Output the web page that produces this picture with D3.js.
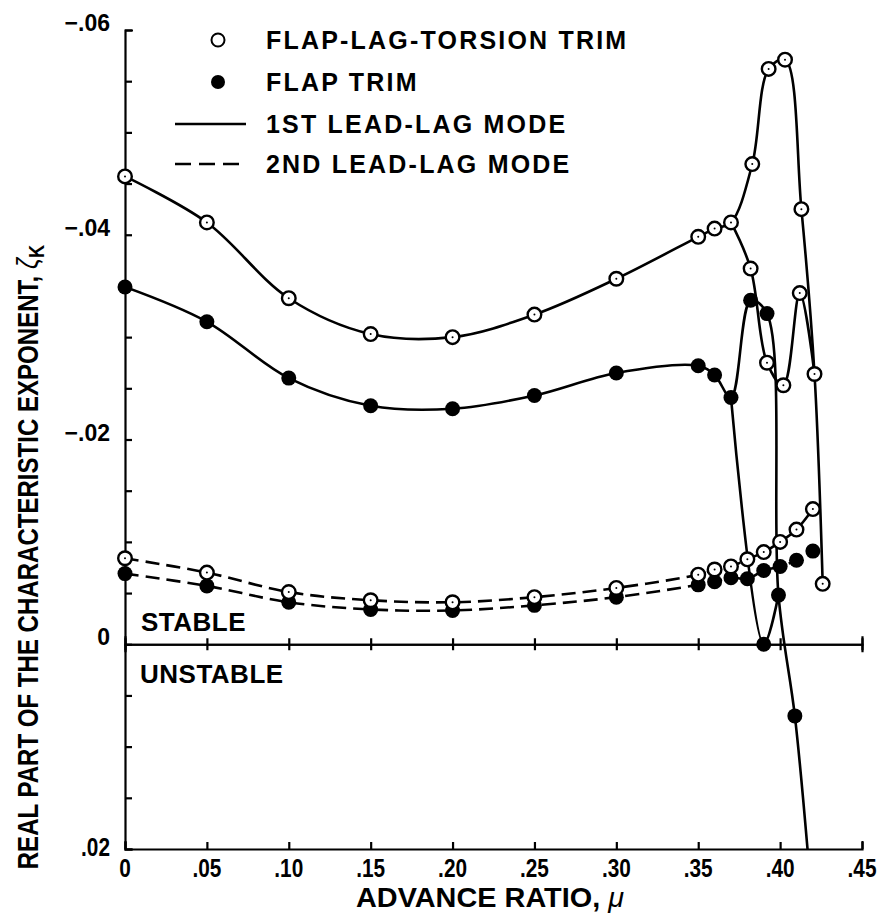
<!DOCTYPE html>
<html>
<head>
<meta charset="utf-8">
<style>
  body { margin: 0; background: #fff; }
  svg { display: block; }
  .lab { font-family: 'Liberation Sans', Arial, Helvetica, sans-serif; font-weight: bold; }
</style>
</head>
<body>
<svg width="885" height="921"></svg>

<script src="https://d3js.org/d3.v7.min.js"></script>
<script>
    // ---- data (advance ratio mu, real part zeta_K) ----
    // 1st lead-lag mode, main part (same mu for both trims)
    let muLead1 = [0, .05, .10, .15, .20, .25, .30, .35, .36, .37]
    let fltLead1 = [-.0457, -.0412, -.0338, -.0303, -.0300, -.0322, -.0357, -.0398, -.0406, -.0412]
    let flLead1 = [-.0349, -.0315, -.0260, -.0233, -.0230, -.0243, -.0265, -.0272, -.0263, -.0241]

    // flap-lag-torsion trim, 1st mode past mu=.37 (two branches)
    let muFltUpper = [.37, .383, .393, .403, .413, .421, .426]
    let fltUpper = [-.0412, -.0469, -.0562, -.0571, -.0425, -.0264, -.0059]
    let muFltLower = [.37, .382, .392, .402, .412, .421]
    let fltLower = [-.0412, -.0367, -.0275, -.0253, -.0343, -.0264]

    // flap trim, 1st mode past mu=.37 (two branches), last upper value is where the line leaves the plot
    let muFlUpper = [.37, .382, .392, .399, .409, .417]
    let flUpper = [-.0241, -.0336, -.0323, -.0048, .0070, .0205]
    let muFlLower = [.37, .390, .399]
    let flLower = [-.0241, .0000, -.0048]

    // 2nd lead-lag mode
    let muLead2 = [0, .05, .10, .15, .20, .25, .30, .35, .36, .37, .38, .39, .40, .41, .42]
    let fltLead2 = [-.0084, -.0070, -.0051, -.0043, -.0041, -.0046, -.0055, -.0068, -.0073, -.0076, -.0083, -.0090, -.0100, -.0112, -.0132]
    let flLead2 = [-.0069, -.0057, -.0041, -.0034, -.0033, -.0038, -.0046, -.0058, -.0061, -.0065, -.0064, -.0072, -.0076, -.0082, -.0091]

    let xTicks = [0, .05, .10, .15, .20, .25, .30, .35, .40, .45]
    let yLabels = [-.06, -.04, -.02, 0, .02]
    let legendLabels = ["FLAP-LAG-TORSION TRIM", "FLAP TRIM", "1ST LEAD-LAG MODE", "2ND LEAD-LAG MODE"]

    let zip = (a, b) => a.map((m, i) => [m, b[i]])

    let svg = d3.select("svg")

    let x = d3.scaleLinear().domain([0, .45]).range([125, 862])
    let y = d3.scaleLinear().domain([-.06, .02]).range([30, 849])

    // y axis with .005 ticks
    let yTickVals = d3.range(0, 17).map(i => -.06 + i * .005)
    svg.append("g")
        .attr("transform", `translate(${x(0)},0)`)
        .call(d3.axisRight(y).tickValues(yTickVals).tickSize(7).tickSizeOuter(8).tickFormat(""))
        .call(g => g.selectAll("path,line").attr("stroke", "#000").attr("stroke-width", 2.2))

    // bottom axis, ticks pointing up
    svg.append("g")
        .attr("transform", `translate(0,${y(.02)})`)
        .call(d3.axisTop(x).tickValues(xTicks).tickSize(7).tickSizeOuter(8).tickFormat(""))
        .call(g => g.selectAll("path,line").attr("stroke", "#000").attr("stroke-width", 2.2))

    // zero line with ticks crossing both ways
    let zeroAxis = svg.append("g").attr("transform", `translate(0,${y(0)})`)
    zeroAxis.append("g").call(d3.axisTop(x).tickValues(xTicks).tickSize(6).tickSizeOuter(8).tickFormat(""))
    zeroAxis.append("g").call(d3.axisBottom(x).tickValues(xTicks).tickSize(6).tickSizeOuter(8).tickFormat(""))
    zeroAxis.selectAll("path,line").attr("stroke", "#000").attr("stroke-width", 2.2)

    // tick labels (condensed look: squeeze horizontally)
    let fmt = d => d === 0 ? "0" : d3.format(".2f")(Math.abs(d)).replace(/^0/, "")
    svg.selectAll(".xlab")
        .data(xTicks)
        .join("text")
        .attr("class", "xlab lab")
        .attr("transform", d => `translate(${x(d)},877) scale(0.8,1)`)
        .attr("text-anchor", "middle")
        .style("font-size", "26px")
        .text(fmt)

    svg.selectAll(".ylab")
        .data(yLabels)
        .join("text")
        .attr("class", "ylab lab")
        .attr("transform", d => d > 0 ? `translate(110,${y(d) + 7}) scale(0.8,1)` : `translate(110,${y(d) + 1})`)
        .attr("text-anchor", "end")
        .style("font-size", d => d > 0 ? "26px" : "23px")
        .text(d => (d < 0 ? "\u2212" : "") + fmt(d))

    // fit a text horizontally into a given width
    function squeeze(sel, cx, cy, rot, target) {
        let w = sel.node().getComputedTextLength()
        sel.attr("transform", `translate(${cx},${cy}) rotate(${rot}) scale(${target / w},1)`)
    }

    // axis titles
    let xt = svg.append("text")
        .attr("class", "lab")
        .attr("text-anchor", "middle")
        .style("font-size", "27px")
    xt.append("tspan").text("ADVANCE RATIO, ")
    xt.append("tspan").style("font-style", "italic").style("font-weight", "normal").text("\u03bc")
    squeeze(xt, 490, 907, 0, 268)

    let yt = svg.append("text")
        .attr("class", "lab")
        .attr("text-anchor", "middle")
        .style("font-size", "29px")
    yt.append("tspan").text("REAL PART OF THE CHARACTERISTIC EXPONENT, ")
    yt.append("tspan").style("font-style", "italic").style("font-weight", "normal").text("\u03b6")
    yt.append("tspan").attr("dy", 6).style("font-size", "22px").text("K")
    squeeze(yt, 38, 557, -90, 625)

    svg.append("text").attr("class", "lab").attr("x", 141).attr("y", 631)
        .style("font-size", "26px").style("letter-spacing", "0.5px").text("STABLE")
    svg.append("text").attr("class", "lab").attr("x", 140).attr("y", 683)
        .style("font-size", "26px").style("letter-spacing", "0.5px").text("UNSTABLE")

    // curves
    svg.append("clipPath").attr("id", "plotclip")
        .append("rect").attr("x", x(0)).attr("y", y(-.06)).attr("width", x(.45) - x(0)).attr("height", y(.02) - y(-.06))

    let line = d3.line()
        .x(d => x(d[0]))
        .y(d => y(d[1]))
        .curve(d3.curveCatmullRom.alpha(0.5))

    let curves = [
        { pts: zip(muLead1, fltLead1).concat(zip(muFltUpper, fltUpper).slice(1)), dash: null },
        { pts: zip(muFltLower, fltLower), dash: null },
        { pts: zip(muLead1, flLead1).concat(zip(muFlUpper, flUpper).slice(1)), dash: null },
        { pts: zip(muFlLower, flLower), dash: null },
        { pts: zip(muLead2, fltLead2), dash: "14,7" },
        { pts: zip(muLead2, flLead2), dash: "14,7" }
    ]

    svg.append("g")
        .attr("clip-path", "url(#plotclip)")
        .selectAll("path")
        .data(curves)
        .join("path")
        .attr("d", d => line(d.pts))
        .attr("fill", "none")
        .attr("stroke", "#000")
        .attr("stroke-width", 2.6)
        .attr("stroke-dasharray", d => d.dash)

    // markers: flap trim (filled) first, open circles on top
    let filledPts = zip(muLead1, flLead1)
        .concat(zip(muFlUpper, flUpper).slice(1, 5))
        .concat(zip(muFlLower, flLower).slice(1, 2))
        .concat(zip(muLead2, flLead2))

    let openPts = zip(muLead1, fltLead1)
        .concat(zip(muFltUpper, fltUpper).slice(1))
        .concat(zip(muFltLower, fltLower).slice(1, 5))
        .concat(zip(muLead2, fltLead2))

    svg.append("g")
        .selectAll("circle")
        .data(filledPts)
        .join("circle")
        .attr("cx", d => x(d[0]))
        .attr("cy", d => y(d[1]))
        .attr("r", 7.5)
        .attr("fill", "#000")

    let openG = svg.append("g")
    openG.selectAll(".oc")
        .data(openPts)
        .join("circle")
        .attr("class", "oc")
        .attr("cx", d => x(d[0]))
        .attr("cy", d => y(d[1]))
        .attr("r", 6.8)
        .attr("fill", "#fff")
        .attr("stroke", "#000")
        .attr("stroke-width", 2.4)
    openG.selectAll(".dot")
        .data(openPts)
        .join("circle")
        .attr("class", "dot")
        .attr("cx", d => x(d[0]))
        .attr("cy", d => y(d[1]))
        .attr("r", 1)
        .attr("fill", "#000")

    // legend
    let legY = [40, 82, 124, 164]
    let leg = svg.append("g")
    leg.selectAll("text")
        .data(legendLabels)
        .join("text")
        .attr("class", "lab")
        .attr("x", 266)
        .attr("y", (d, i) => legY[i] + 9)
        .style("font-size", "25px")
        .style("letter-spacing", "2.2px")
        .text(d => d)

    leg.append("circle").attr("cx", 218).attr("cy", legY[0]).attr("r", 6.5)
        .attr("fill", "#fff").attr("stroke", "#000").attr("stroke-width", 2)
    leg.append("circle").attr("cx", 218).attr("cy", legY[1]).attr("r", 7)
        .attr("fill", "#000")
    leg.append("line").attr("x1", 175).attr("x2", 246).attr("y1", legY[2]).attr("y2", legY[2])
        .attr("stroke", "#000").attr("stroke-width", 2.6)
    leg.append("line").attr("x1", 175).attr("x2", 246).attr("y1", legY[3]).attr("y2", legY[3])
        .attr("stroke", "#000").attr("stroke-width", 2.6).attr("stroke-dasharray", "16,8")
</script>
</body>
</html>
